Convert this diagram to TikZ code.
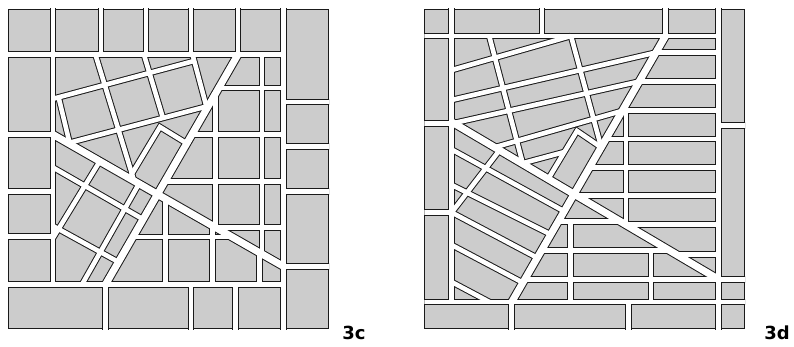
\documentclass[tikz,border=0pt]{standalone}
\usepackage{fontspec}
\setsansfont{DejaVu Sans}
\definecolor{blockgray}{HTML}{CCCCCC}
\definecolor{curb}{HTML}{1A1A1A}
\tikzset{
  land/.style={fill=blockgray, draw=curb, line width=1pt},
  road/.style={line width=4.6pt+\grow, line cap=butt, line join=miter},
  mainroad/.style={line width=7pt+\grow, line cap=butt, line join=miter},
  maplabel/.style={font=\sffamily\bfseries\fontsize{18}{18}\selectfont}
}
\begin{document}
\begin{tikzpicture}[x=1pt, y=-1pt]
  \useasboundingbox (0,0) rectangle (794,347);
  \filldraw[land] (8.5,9.2) rectangle (328.5,328.8);
  \filldraw[land] (424.8,9.5) rectangle (744.5,328.8);

  \foreach \ink/\grow in {curb/2pt, white/0pt} {
    \begin{scope}[color=\ink]
      \clip (8,8.7) rectangle (329,329.3);
      \draw[road] (0,54.5) -- (283.7,54.5);
      \draw[road] (283.7,0) -- (283.7,340);
      \draw[road] (0,284.5) -- (283.7,284.5);
      \draw[road] (53,0) -- (53,284.5);
      \foreach \x in {100.8,146,190.8,238} \draw[road] (\x,0) -- (\x,54.5);
      \foreach \x in {105.5,190.8,235.7} \draw[road] (\x,284.5) -- (\x,340);
      \foreach \y in {134.5,191.7,236.7} \draw[road] (0,\y) -- (53,\y);
      \foreach \y in {102,146.8,191.7,266.5} \draw[road] (283.7,\y) -- (340,\y);
      \draw[mainroad] (53,134.5) -- (283.7,266.5);
      \draw[mainroad] (238,54.5) -- (105.5,284.5);
      \draw[road] (218.6,88.2) -- (283.7,88.2);
      \draw[road] (191.7,134.8) -- (283.7,134.8);
      \draw[road] (164.8,181.5) -- (283.7,181.5);
      \draw[road] (215.5,227.5) -- (283.7,227.5);
      \draw[road] (133,236.8) -- (231.8,236.8);
      \draw[road] (261.8,54.5) -- (261.8,254);
      \draw[road] (259.2,252.5) -- (259.2,284.5);
      \draw[road] (215.2,94.1) -- (215.2,227.3);
      \draw[road] (212.2,225.6) -- (212.2,284.5);
      \draw[road] (165.5,198.9) -- (165.5,284.5);
      \draw[road] (53,98.8) -- (194,61);
      \draw[road] (68,143.1) -- (208.3,106);
      \draw[road] (58.6,97.3) -- (69.5,142.5);
      \draw[road] (95.4,54.5) -- (134,180.6);
      \draw[road] (143.9,54.5) -- (163,118.1);
      \draw[road] (192.5,54.5) -- (206.9,108.4);
      \draw[road] (129.2,178.3) -- (160,127) -- (186.8,143.4);
      \draw[road] (53,167.5) -- (143.1,219.3);
      \draw[road] (53,226) -- (118.5,262);
      \draw[road] (99.7,161.4) -- (53,238);
      \draw[road] (139,183.7) -- (82,284.5);
    \end{scope}
    \begin{scope}[color=\ink]
      \clip (424.3,9) rectangle (745,329.3);
      \draw[road] (400,36) -- (718.3,36);
      \draw[road] (718.3,0) -- (718.3,340);
      \draw[road] (451.7,0) -- (451.7,302);
      \draw[road] (400,302) -- (760,302);
      \foreach \x in {541.8,665.5} \draw[road] (\x,0) -- (\x,36);
      \foreach \x in {511.7,628.2} \draw[road] (\x,302) -- (\x,340);
      \foreach \y in {123.3,212.5} \draw[road] (400,\y) -- (451.7,\y);
      \foreach \y in {125.5,279.2} \draw[road] (718.3,\y) -- (760,\y);
      \draw[mainroad] (665.5,36) -- (511.7,302);
      \draw[mainroad] (451.7,122) -- (718.3,279.2);
      \foreach \y/\x in {52.5/656, 81.5/639.2, 110.8/622.3, 139.2/605.8, 167.5/589.5, 195.8/573.1, 279.2/524.9}
        \draw[road] (\x,\y) -- (718.3,\y);
      \draw[road] (625.5,224.5) -- (718.3,224.5);
      \draw[road] (675.9,254.2) -- (718.3,254.2);
      \draw[road] (558.1,221.8) -- (621,221.8);
      \draw[road] (541.5,250.5) -- (669.6,250.5);
      \draw[road] (625.8,110.8) -- (625.8,224.6);
      \draw[road] (570.3,221.8) -- (570.3,302);
      \draw[road] (650.8,250.5) -- (650.8,302);
      \draw[road] (451.7,70.1) -- (571,36);
      \draw[road] (571,36) -- (601.3,147.5);
      \draw[road] (489.2,36) -- (522.7,163.2);
      \draw[road] (451.7,100) -- (656,52.5);
      \draw[road] (452,123.5) -- (639.2,81.5);
      \draw[road] (494.6,147.3) -- (622.3,110.8);
      \draw[road] (522.7,163.2) -- (564.4,152);
      \draw[road] (548.2,178.9) -- (577,131) -- (601.3,147.5);
      \draw[road] (451.7,149.5) -- (564.1,211.3);
      \draw[road] (451.7,185) -- (550.7,234.5);
      \draw[road] (451.7,212.5) -- (537.2,257.8);
      \draw[road] (451.7,245) -- (522.9,282.7);
      \draw[road] (451.7,282) -- (489.4,302);
      \draw[road] (499.5,150.3) -- (451.7,212.5);
    \end{scope}
  }

  \node[maplabel] (lab3c) at (354,333) {3c};
  \node[maplabel] (lab3d) at (777,333) {3d};
\end{tikzpicture}
\end{document}
